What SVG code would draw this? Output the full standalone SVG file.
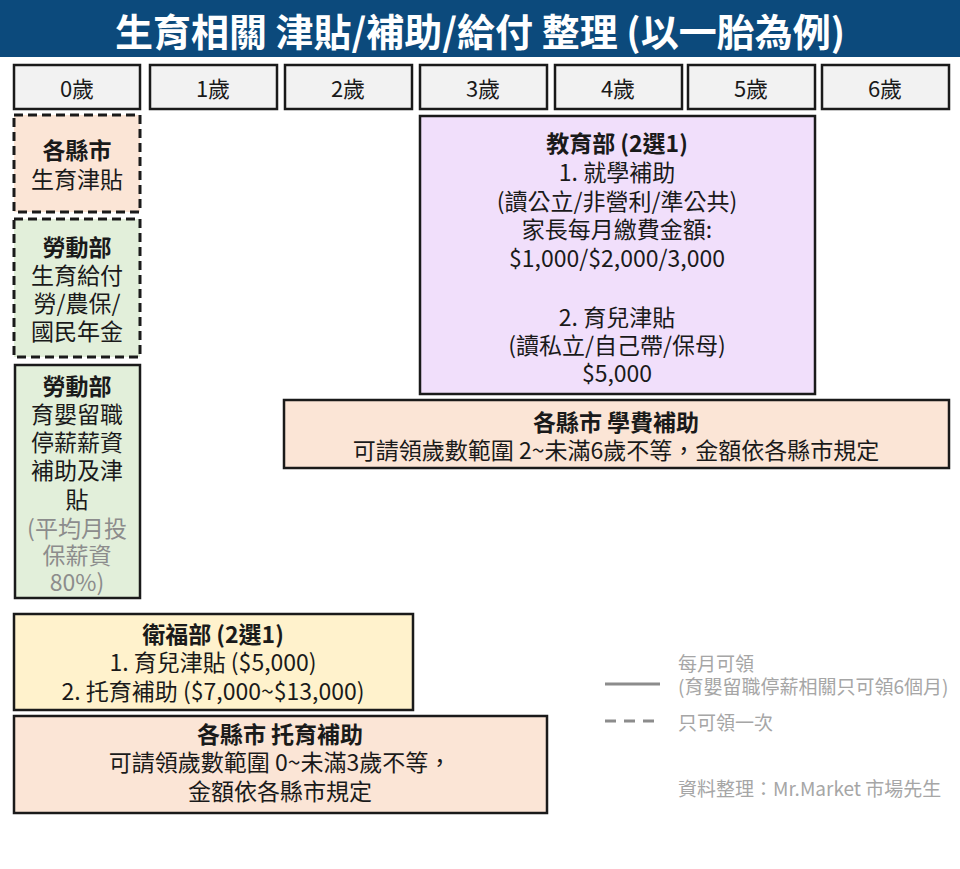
<svg xmlns="http://www.w3.org/2000/svg" width="960" height="869" viewBox="0 0 960 869">
<style>
text{font-family:"Noto Sans CJK TC","Noto Sans",sans-serif;fill:#1a1a1a;text-anchor:middle;dominant-baseline:central}
.t{font-size:23px}
.a{font-size:22px}
.b{font-weight:bold}
.g{fill:#8c8c8c}
.age{fill:#f2f2f2;stroke:#1a1a1a;stroke-width:2.5}
.box{stroke:#1a1a1a;stroke-width:2.5}
.dash{stroke:#1a1a1a;stroke-width:3;stroke-dasharray:9 5}
.peach{fill:#fbe5d6}.green{fill:#e2efda}.purple{fill:#f1dffb}.yellow{fill:#fff2cc}
.leg{font-size:19px;fill:#a6a6a6;text-anchor:start}
</style>
<rect width="960" height="869" fill="#ffffff"/>
<g id="title">
<rect x="0" y="0" width="960" height="57" fill="#0c4a7c"/>
<text x="480" y="29" style="font-size:38px;font-weight:bold;fill:#ffffff">生育相關 津貼/補助/給付 整理 (以一胎為例)</text>
</g>
<g id="ages">
<rect class="age" x="14" y="65" width="126" height="44"/><text class="a" x="77" y="87">0歲</text>
<rect class="age" x="150" y="65" width="127" height="44"/><text class="a" x="213" y="87">1歲</text>
<rect class="age" x="285" y="65" width="127" height="44"/><text class="a" x="348" y="87">2歲</text>
<rect class="age" x="420" y="65" width="127" height="44"/><text class="a" x="483" y="87">3歲</text>
<rect class="age" x="555" y="65" width="127" height="44"/><text class="a" x="618" y="87">4歲</text>
<rect class="age" x="688" y="65" width="127" height="44"/><text class="a" x="751" y="87">5歲</text>
<rect class="age" x="822" y="65" width="127" height="44"/><text class="a" x="885" y="87">6歲</text>
</g>
<g id="county-birth">
<rect class="dash peach" x="14" y="115" width="126" height="97"/>
<text class="t b" x="77" y="149">各縣市</text>
<text class="t" x="77" y="178">生育津貼</text>
</g>
<g id="labor-birth">
<rect class="dash green" x="14" y="219" width="126" height="138"/>
<text class="t b" x="77" y="246">勞動部</text>
<text class="t" x="77" y="274">生育給付</text>
<text class="t" x="77" y="302">勞/農保/</text>
<text class="t" x="77" y="330">國民年金</text>
</g>
<g id="labor-leave">
<rect class="box green" x="15" y="365" width="125" height="233"/>
<text class="t b" x="77" y="385">勞動部</text>
<text class="t" x="77" y="413">育嬰留職</text>
<text class="t" x="77" y="441">停薪薪資</text>
<text class="t" x="77" y="469">補助及津</text>
<text class="t" x="77" y="498">貼</text>
<text class="t g" x="77" y="527">(平均月投</text>
<text class="t g" x="77" y="554">保薪資</text>
<text class="t g" x="77" y="581">80%)</text>
</g>
<g id="moe">
<rect class="box purple" x="420" y="116" width="395" height="278"/>
<text class="t b" x="617" y="142">教育部 (2選1)</text>
<text class="t" x="617" y="171">1. 就學補助</text>
<text class="t" x="617" y="200">(讀公立/非營利/準公共)</text>
<text class="t" x="617" y="228">家長每月繳費金額: </text>
<text class="t" x="617" y="257">$1,000/$2,000/3,000</text>
<text class="t" x="617" y="316">2. 育兒津貼</text>
<text class="t" x="617" y="344">(讀私立/自己帶/保母)</text>
<text class="t" x="617" y="372">$5,000</text>
</g>
<g id="county-tuition">
<rect class="box peach" x="284" y="400" width="665" height="68"/>
<text class="t b" x="616" y="421">各縣市 學費補助</text>
<text class="t" x="616" y="449">可請領歲數範圍 2~未滿6歲不等，金額依各縣市規定</text>
</g>
<g id="mohw">
<rect class="box yellow" x="14" y="614" width="399" height="96"/>
<text class="t b" x="213" y="633">衛福部 (2選1)</text>
<text class="t" x="213" y="661">1. 育兒津貼 ($5,000)</text>
<text class="t" x="213" y="690">2. 托育補助 ($7,000~$13,000)</text>
</g>
<g id="county-care">
<rect class="box peach" x="14" y="716" width="533" height="97"/>
<text class="t b" x="280" y="733">各縣市 托育補助</text>
<text class="t" x="280" y="761">可請領歲數範圍 0~未滿3歲不等，</text>
<text class="t" x="280" y="790">金額依各縣市規定</text>
</g>
<g id="connectors">
<line x1="605" y1="684" x2="660" y2="684" stroke="#8c8c8c" stroke-width="3"/>
<line x1="605" y1="721" x2="660" y2="721" stroke="#8c8c8c" stroke-width="3" stroke-dasharray="11 8"/>
</g>
<g id="legend">
<text class="leg" x="678" y="662">每月可領</text>
<text class="leg" x="678" y="685">(育嬰留職停薪相關只可領6個月)</text>
<text class="leg" x="678" y="721">只可領一次</text>
<text class="leg" x="678" y="787">資料整理：Mr.Market 市場先生</text>
</g>
</svg>
